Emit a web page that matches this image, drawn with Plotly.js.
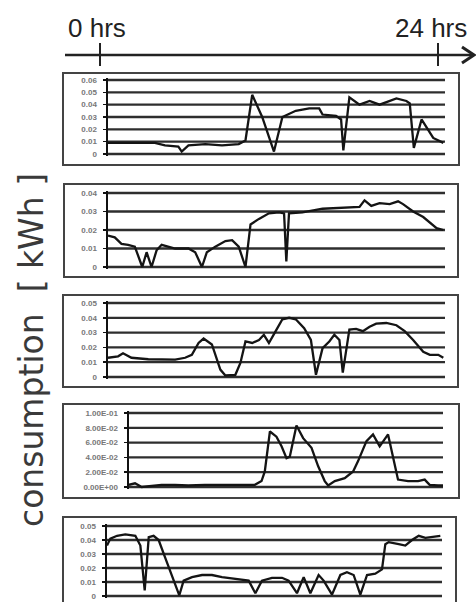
<!DOCTYPE html>
<html><head><meta charset="utf-8">
<script src="https://cdn.plot.ly/plotly-3.0.1.min.js"></script>
<style>html,body{margin:0;padding:0;background:#fff}#chart{width:476px;height:602px}</style>
</head><body><div id="chart"></div>
<script>
// ---- data (hours of the day, kWh) ----
const hours1 = [0,3.34,4.06,5.01,5.25,5.73,6.93,8.12,9.31,9.79,10.27,10.98,11.82,12.42,13.37,14.33,15.04,15.28,16.24,16.60,16.76,17.19,17.91,18.63,19.34,20.06,20.54,21.25,21.49,21.78,22.33,23.16,23.88];
const kwh1   = [0.009,0.009,0.007,0.006,0.002,0.007,0.008,0.007,0.008,0.011,0.048,0.030,0.002,0.030,0.035,0.037,0.037,0.032,0.031,0.028,0.003,0.046,0.040,0.043,0.040,0.043,0.045,0.043,0.041,0.005,0.028,0.013,0.009];

const hours2 = [0,0.48,0.96,1.43,1.91,2.15,2.44,2.75,3.10,3.46,3.82,4.78,5.73,6.21,6.69,7.04,7.64,8.36,8.84,9.31,9.79,10.15,10.75,11.46,12.18,12.54,12.70,12.89,13.85,15.28,16.24,17.19,17.91,18.27,18.75,19.34,20.06,20.66,21.01,21.73,22.45,23.40,23.88];
const kwh2   = [0.017,0.016,0.0125,0.012,0.011,0.006,0,0.008,0,0.009,0.012,0.010,0.010,0.008,0,0.008,0.011,0.014,0.0145,0.011,0,0.023,0.026,0.029,0.0295,0.029,0.003,0.029,0.0295,0.0315,0.032,0.0325,0.0325,0.036,0.033,0.0345,0.034,0.0355,0.034,0.030,0.027,0.021,0.020];

const hours3 = [0,0.72,1.07,1.67,2.87,3.82,4.78,5.49,5.97,6.45,6.81,7.40,8.00,8.36,9.07,9.43,9.79,10.27,10.75,11.10,11.46,11.94,12.42,12.90,13.37,13.97,14.45,14.81,15.28,15.76,16.12,16.48,16.72,17.19,17.67,18.15,18.63,19.10,19.82,20.54,21.13,21.73,22.45,22.92,23.52,23.88];
const kwh3   = [0.013,0.014,0.016,0.013,0.012,0.0117,0.0117,0.013,0.015,0.023,0.026,0.022,0.005,0.001,0.0015,0.0095,0.024,0.023,0.025,0.0285,0.023,0.031,0.039,0.040,0.039,0.033,0.025,0.0015,0.0195,0.024,0.0285,0.025,0.003,0.032,0.0325,0.031,0.034,0.036,0.0365,0.035,0.031,0.025,0.017,0.015,0.015,0.013];

const hours4 = [0,0.46,0.97,1.73,2.49,3.51,4.53,5.80,7.08,8.35,9.62,10.13,10.38,10.77,11.27,11.66,12.04,12.29,12.80,13.31,13.95,14.46,14.96,15.22,15.73,16.49,17.13,17.51,18.15,18.65,19.16,19.80,20.31,20.56,21.33,22.09,22.60,22.98,23.62,24.0];
const kwh4   = [0.003,0.005,0,0.002,0.003,0.003,0.002,0.003,0.003,0.002,0.003,0.008,0.021,0.075,0.068,0.055,0.039,0.041,0.083,0.066,0.053,0.028,0.008,0.002,0.008,0.012,0.021,0.035,0.062,0.071,0.055,0.071,0.028,0.010,0.008,0.008,0.010,0.003,0.002,0.002];

const hours5 = [0,0.24,0.72,1.31,2.03,2.39,2.70,2.99,3.34,3.70,4.18,4.78,5.18,5.49,6.09,6.81,7.52,8.24,9.19,10.15,10.63,11.10,11.82,12.54,13.01,13.61,14.09,14.57,15.16,15.52,16.12,16.72,17.19,17.67,18.15,18.63,19.22,19.70,19.94,20.18,20.90,21.37,21.85,22.33,22.81,23.28,23.88];
const kwh5   = [0.036,0.041,0.043,0.044,0.043,0.036,0.004,0.042,0.043,0.040,0.027,0.011,0.0005,0.011,0.0135,0.015,0.015,0.0135,0.012,0.011,0.002,0.011,0.013,0.013,0.011,0.002,0.0135,0.002,0.015,0.011,0.001,0.015,0.017,0.015,0.001,0.015,0.016,0.019,0.037,0.0385,0.037,0.036,0.040,0.043,0.0415,0.042,0.043];

const ticks1 = [0,0.01,0.02,0.03,0.04,0.05,0.06];
const tickText1 = ['0','0.01','0.02','0.03','0.04','0.05','0.06'];
const ticks2 = [0,0.01,0.02,0.03,0.04];
const tickText2 = ['0','0.01','0.02','0.03','0.04'];
const ticks3 = [0,0.01,0.02,0.03,0.04,0.05];
const tickText3 = ['0','0.01','0.02','0.03','0.04','0.05'];
const ticks4 = [0,0.02,0.04,0.06,0.08,0.1];
const tickText4 = ['0.00E+00','2.00E-02','4.00E-02','6.00E-02','8.00E-02','1.00E-01'];
const ticks5 = [0,0.01,0.02,0.03,0.04,0.05];
const tickText5 = ['0','0.01','0.02','0.03','0.04','0.05'];

const axisLabels = ['0 hrs','24 hrs'];
const yTitle = 'consumption  [ kWh ]';

// ---- layout (pixels -> paper) ----
const W = 476, H = 602;
const px = v => v / W, py = v => 1 - v / H;

const series = [
  {x: hours1, y: kwh1, tv: ticks1, tt: tickText1, max: 0.06},
  {x: hours2, y: kwh2, tv: ticks2, tt: tickText2, max: 0.04},
  {x: hours3, y: kwh3, tv: ticks3, tt: tickText3, max: 0.05},
  {x: hours4, y: kwh4, tv: ticks4, tt: tickText4, max: 0.1},
  {x: hours5, y: kwh5, tv: ticks5, tt: tickText5, max: 0.05}
];
const plotBoxes = [ // left, right, top, bottom of plot area (px)
  [108, 445, 80, 154],
  [108, 445, 193, 267],
  [108, 445, 303, 377],
  [129, 443, 413, 487],
  [107, 442, 526, 596]
];
const frames = [
  [63, 459, 73, 165],
  [64, 458, 184, 277],
  [63, 458, 295, 387],
  [63, 459, 404, 498],
  [63, 456, 517, 612]
];

const data = [];
const layout = {
  width: W, height: H,
  margin: {l: 0, r: 0, t: 0, b: 0},
  paper_bgcolor: '#fff', plot_bgcolor: 'rgba(0,0,0,0)',
  showlegend: false,
  font: {family: 'Liberation Sans, Arial, sans-serif', color: '#222'},
  shapes: [], annotations: []
};

series.forEach((s, i) => {
  const n = i + 1;
  const sfx = n === 1 ? '' : String(n);
  const b = plotBoxes[i];
  data.push({
    type: 'scatter', mode: 'lines', x: s.x, y: s.y,
    xaxis: 'x' + sfx, yaxis: 'y' + sfx,
    line: {color: '#141414', width: 2.3}, hoverinfo: 'skip'
  });
  const padPx = 2, hPx = b[3] - b[2];
  const pad = s.max * padPx / hPx;
  layout['xaxis' + sfx] = {
    domain: [px(b[0]), px(b[1])], range: [0, 24],
    visible: false, fixedrange: true, anchor: 'y' + sfx
  };
  layout['yaxis' + sfx] = {
    domain: [py(b[3] + padPx), py(b[2] - padPx)], range: [-pad, s.max + pad],
    anchor: 'x' + sfx,
    tickmode: 'array', tickvals: s.tv, ticktext: s.tt,
    showgrid: false, zeroline: false,
    showline: true, linecolor: '#111', linewidth: 2.5,
    ticks: 'outside', ticklen: 3, tickcolor: '#111', tickwidth: 1.5,
    ticklabelstandoff: 4,
    tickfont: {size: 8, color: '#777', weight: 'bold'}, fixedrange: true
  };
  // horizontal grid lines at every tick value, drawn through the axis scale
  s.tv.forEach(v => {
    layout.shapes.push({
      type: 'line', xref: 'x' + sfx + ' domain', yref: 'y' + sfx,
      x0: 0, x1: 1, y0: v, y1: v,
      line: {color: '#2e2e2e', width: 2.3}, layer: 'below'
    });
  });
  const f = frames[i];
  layout.shapes.push({
    type: 'rect', xref: 'paper', yref: 'paper',
    x0: px(f[0]), x1: px(f[1]), y0: py(f[3]), y1: py(f[2]),
    line: {color: '#444', width: 2}, fillcolor: 'rgba(0,0,0,0)', layer: 'below'
  });
});

// time arrow at the top
layout.shapes.push(
  {type: 'line', xref: 'paper', yref: 'paper', x0: px(65), x1: px(472), y0: py(55), y1: py(55), line: {color: '#222', width: 2.5}},
  {type: 'path', xref: 'paper', yref: 'paper', path: `M ${px(462)} ${py(47)} L ${px(474)} ${py(55)} L ${px(462)} ${py(63)}`, line: {color: '#222', width: 3}},
  {type: 'line', xref: 'paper', yref: 'paper', x0: px(100), x1: px(100), y0: py(43), y1: py(66), line: {color: '#222', width: 2}},
  {type: 'line', xref: 'paper', yref: 'paper', x0: px(438), x1: px(438), y0: py(43), y1: py(66), line: {color: '#222', width: 2}}
);

layout.annotations.push(
  {xref: 'paper', yref: 'paper', x: px(66), y: py(28), xanchor: 'left', yanchor: 'middle', text: axisLabels[0], showarrow: false, font: {size: 26, color: '#222'}},
  {xref: 'paper', yref: 'paper', x: px(469), y: py(28), xanchor: 'right', yanchor: 'middle', text: axisLabels[1], showarrow: false, font: {size: 26, color: '#222'}},
  {xref: 'paper', yref: 'paper', x: px(31), y: py(350), xanchor: 'center', yanchor: 'middle', text: yTitle, textangle: -90, showarrow: false, font: {family: 'DejaVu Sans, sans-serif', size: 33, color: '#3a3a3a'}}
);

Plotly.newPlot('chart', data, layout, {staticPlot: true, displayModeBar: false});
</script></body></html>
